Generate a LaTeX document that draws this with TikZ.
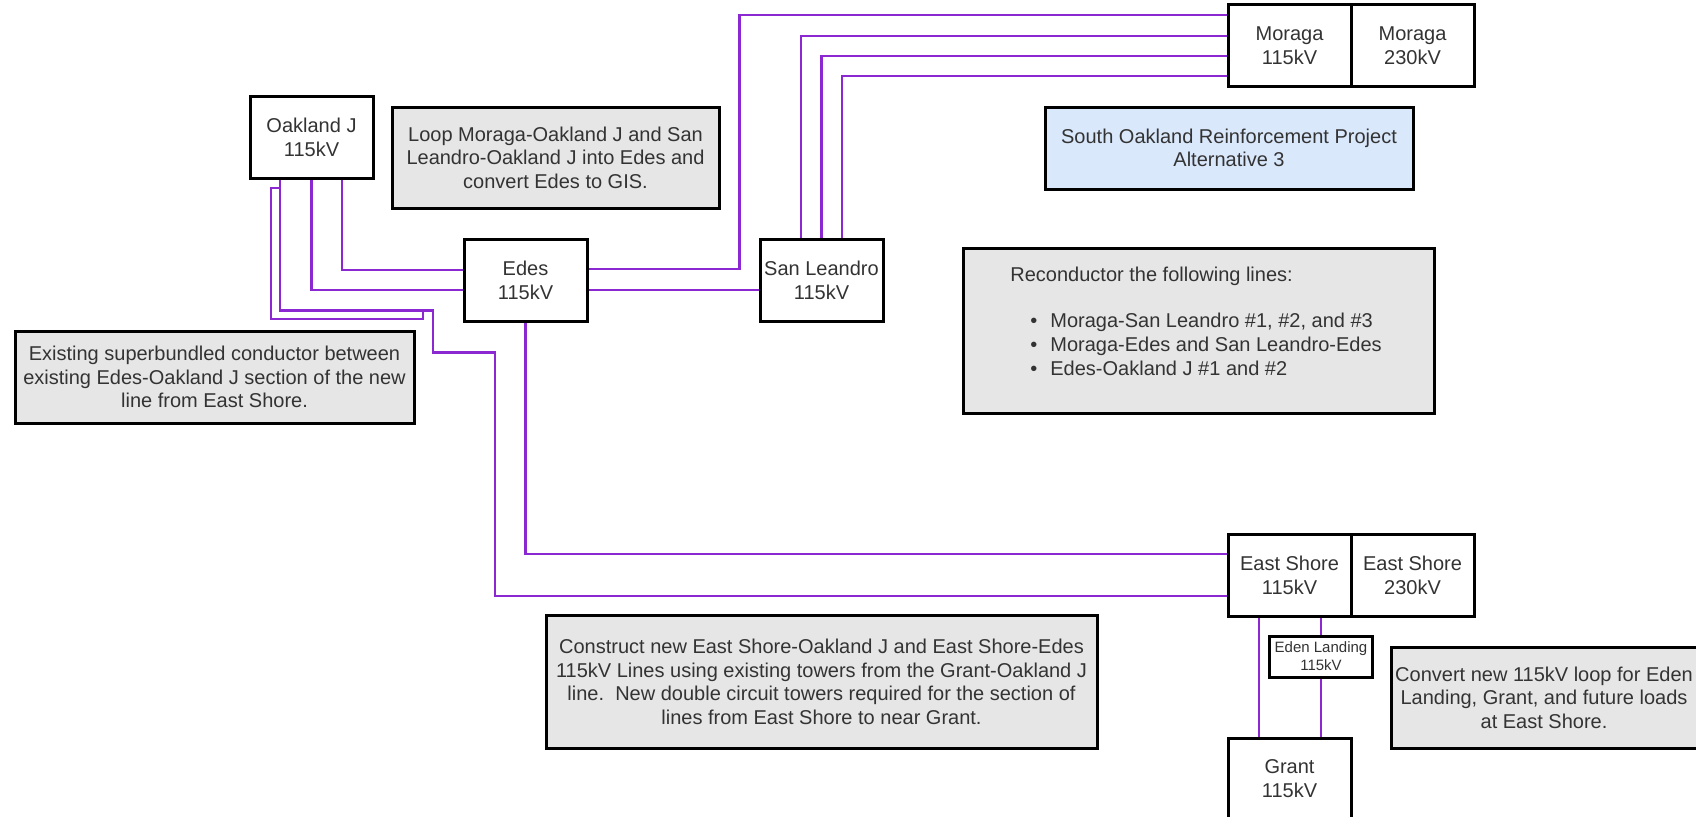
\documentclass[tikz,border=0pt]{standalone}
\usepackage{fontspec}
\setmainfont{Liberation Sans}
\usepackage{xcolor}
\usetikzlibrary{positioning}
\definecolor{LineViolet}{RGB}{140,40,210}
\definecolor{NoteGrey}{RGB}{230,230,230}
\definecolor{TitleBlue}{RGB}{218,232,252}
\definecolor{TextGrey}{RGB}{51,51,51}

\begin{document}
\begin{tikzpicture}[x=0.5pt, y=-0.5pt,
    station/.style={rectangle, draw=black, fill=white, line width=1.5pt, minimum width=61.5pt, minimum height=41pt, inner sep=0pt, align=center, text=TextGrey, font=\fontsize{10}{12}\selectfont},
    note/.style={rectangle, draw=black, fill=NoteGrey, line width=1.5pt, inner sep=0pt, align=center, text=TextGrey, font=\fontsize{10}{11.75}\selectfont},
    feeder/.style={draw=LineViolet, line width=1.2pt}
]
\useasboundingbox (0,0) rectangle (1696,816);

% substations
\node[station] (oakj) at (311.5,137) {Oakland J\\115kV};
\node[station] (edes) at (525.5,280) {Edes\\115kV};
\node[station] (sanl) at (821.5,280) {San Leandro\\115kV};
\node[station] (mor115) at (1289.5,45.5) {Moraga\\115kV};
\node[station, right=-1.5pt of mor115] (mor230) {Moraga\\230kV};
\node[station] (es115) at (1289.5,575.5) {East Shore\\115kV};
\node[station, right=-1.5pt of es115] (es230) {East Shore\\230kV};
\node[station] (grant) at (1289.5,779) {Grant\\115kV};
\node[station, minimum width=51.5pt, minimum height=20.5pt, font=\fontsize{7.5}{9}\selectfont] (eden) at (1321,656.5) {Eden Landing\\115kV};

% notes
\node[note, minimum width=163.5pt, minimum height=50.5pt] (loopnote) at (555.5,157.5) {Loop Moraga-Oakland J and San\\Leandro-Oakland J into Edes and\\convert Edes to GIS.};
\node[note, fill=TitleBlue, minimum width=184pt, minimum height=41pt] (title) at (1229,148) {South Oakland Reinforcement Project\\Alternative 3};
\node[note, minimum width=235.5pt, minimum height=82.5pt] (recond) at (1198.5,330.5) {};
\node[anchor=north west, align=left, inner sep=0pt, text=TextGrey, font=\fontsize{10}{12}\selectfont] (recondtext) at (1010,267) {Reconductor the following lines:\\[11pt]
\hspace*{10pt}\textbullet\hspace{6.5pt}Moraga-San Leandro \#1, \#2, and \#3\\
\hspace*{10pt}\textbullet\hspace{6.5pt}Moraga-Edes and San Leandro-Edes\\
\hspace*{10pt}\textbullet\hspace{6.5pt}Edes-Oakland J \#1 and \#2};
\node[note, minimum width=199.5pt, minimum height=46pt] (superb) at (214.5,377) {Existing superbundled conductor between\\existing Edes-Oakland J section of the new\\line from East Shore.};
\node[note, minimum width=275.5pt, minimum height=66.5pt] (construct) at (821.5,682) {Construct new East Shore-Oakland J and East Shore-Edes\\115kV Lines using existing towers from the Grant-Oakland J\\line.\ \ New double circuit towers required for the section of\\lines from East Shore to near Grant.};
\node[note, minimum width=153pt, minimum height=50.5pt] (convert) at (1544,697.5) {Convert new 115kV loop for Eden\\Landing, Grant, and future loads\\at East Shore.};

% lines
\draw[feeder] ([xshift=15.25pt]oakj.south) |- ([yshift=5pt]edes.west);
\draw[feeder] (oakj.south) |- ([yshift=-5pt]edes.west);
\draw[feeder] ([xshift=-15.75pt]oakj.south) -- ++(0,131) -- ++(153,0) -- ++(0,42) -- ++(62,0) |- ([yshift=-10.25pt]es115.west);
\draw[feeder] ([xshift=-15.75pt,yshift=-4.25pt]oakj.south) -- ++(-9,0) -- ++(0,131) -- ++(152,0) -- ++(0,-9);
\draw[feeder] (edes.south) |- ([yshift=10.75pt]es115.west);
\draw[feeder] ([yshift=5.5pt]edes.east) -- ++(151,0) |- ([yshift=15.25pt]mor115.west);
\draw[feeder] ([yshift=-5pt]edes.east) -- ([yshift=-5pt]sanl.west);
\draw[feeder] ([xshift=-10.25pt]sanl.north) |- ([yshift=4.75pt]mor115.west);
\draw[feeder] (sanl.north) |- ([yshift=-5.25pt]mor115.west);
\draw[feeder] ([xshift=10.25pt]sanl.north) |- ([yshift=-15.25pt]mor115.west);
\draw[feeder] ([xshift=-15.25pt]es115.south) -- ([xshift=-15.25pt]grant.north);
\draw[feeder] (eden.north) -- (eden.north |- es115.south);
\draw[feeder] (eden.south) -- (eden.south |- grant.north);
\end{tikzpicture}
\end{document}
